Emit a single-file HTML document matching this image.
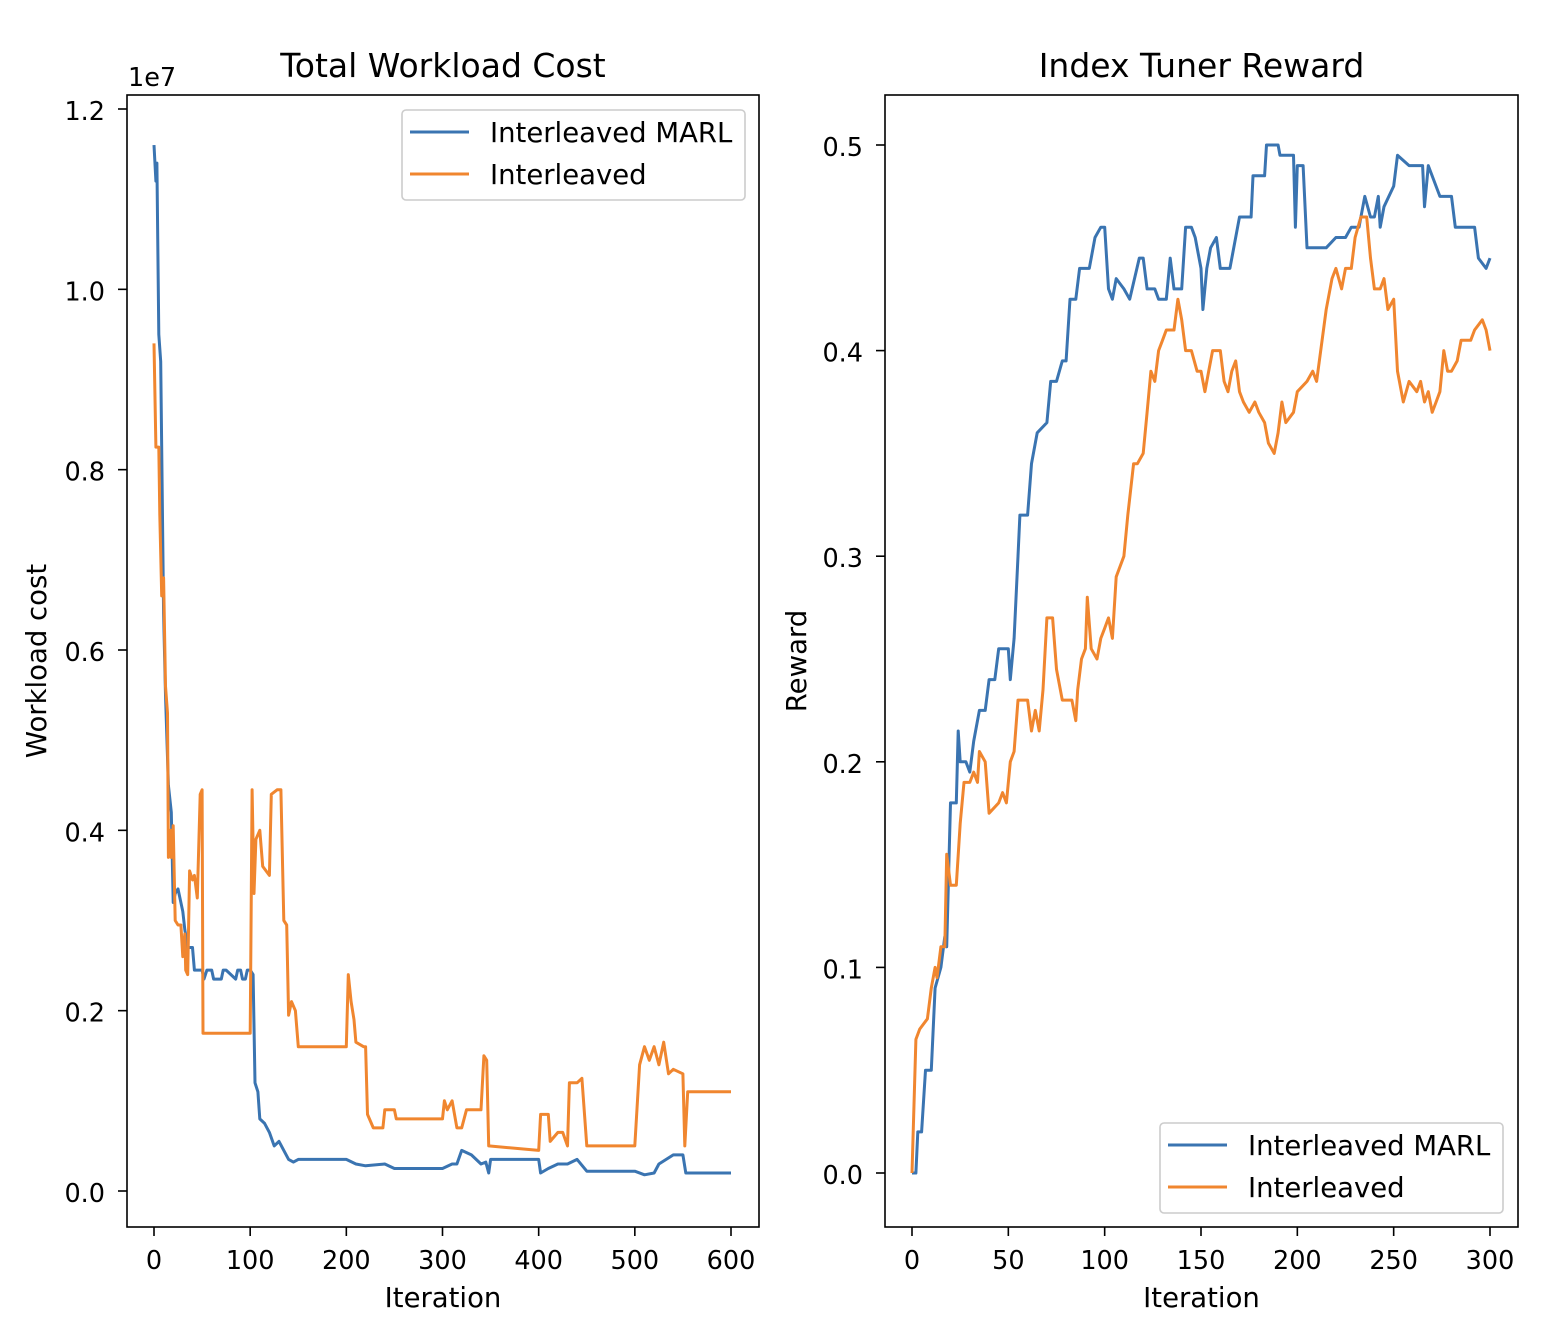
<!DOCTYPE html>
<html><head><meta charset="utf-8"><style>
html,body{margin:0;padding:0;background:#fff}
svg{display:block;font-family:"DejaVu Sans","Liberation Sans",sans-serif}
</style></head><body>
<svg id="fig" width="1560" height="1340" viewBox="0 0 1560 1340" xmlns="http://www.w3.org/2000/svg"></svg>
<script>
// Left chart data (workload cost, units of 1e6)
const costIterBlue=[0,2,3,5,7,10,12,15,18,20,22,25,30,32,35,40,42,50,52,55,60,62,70,72,75,85,87,90,92,95,97,100,103,105,108,110,115,120,125,130,135,140,145,150,200,210,220,240,250,300,310,315,320,330,340,345,348,350,400,402,410,420,430,440,450,500,510,520,525,540,550,553,600];
const costBlue=[11.6,11.2,11.4,9.5,9.2,6.4,5.5,4.5,4.2,3.2,3.3,3.35,3.1,2.9,2.7,2.7,2.45,2.45,2.35,2.45,2.45,2.35,2.35,2.45,2.45,2.35,2.45,2.45,2.35,2.35,2.45,2.45,2.4,1.2,1.1,0.8,0.75,0.65,0.5,0.55,0.45,0.35,0.32,0.35,0.35,0.3,0.28,0.3,0.25,0.25,0.3,0.3,0.45,0.4,0.3,0.32,0.2,0.35,0.35,0.2,0.25,0.3,0.3,0.35,0.22,0.22,0.18,0.2,0.3,0.4,0.4,0.2,0.2];
const costIterOrange=[0,2,5,6,8,10,12,14,15,17,18,20,22,25,28,30,32,33,35,37,40,42,45,48,50,51,100,102,104,106,110,113,120,122,128,132,135,138,140,143,147,150,200,202,205,208,210,218,220,222,228,238,240,250,252,300,302,305,310,315,320,325,340,343,346,348,400,402,410,412,420,425,430,432,440,445,450,500,505,510,515,520,525,530,535,540,550,552,555,600];
const costOrange=[9.4,8.25,8.25,7.5,6.6,6.8,5.6,5.3,3.7,4.0,3.7,4.05,3.0,2.95,2.95,2.6,2.85,2.45,2.4,3.55,3.45,3.5,3.25,4.4,4.45,1.75,1.75,4.45,3.3,3.9,4.0,3.6,3.5,4.4,4.45,4.45,3.0,2.95,1.95,2.1,2.0,1.6,1.6,2.4,2.1,1.9,1.65,1.6,1.6,0.85,0.7,0.7,0.9,0.9,0.8,0.8,1.0,0.9,1.0,0.7,0.7,0.9,0.9,1.5,1.45,0.5,0.45,0.85,0.85,0.55,0.65,0.65,0.5,1.2,1.2,1.25,0.5,0.5,1.4,1.6,1.45,1.6,1.4,1.65,1.3,1.35,1.3,0.5,1.1,1.1];
const costXTicks=[0,100,200,300,400,500,600];
const costYTicks=[0,2,4,6,8,10,12];
const costYLabels=["0.0","0.2","0.4","0.6","0.8","1.0","1.2"];
// Right chart data (reward)
const rewIterBlue=[0,2,3,5,7,10,12,15,17,18,20,23,24,25,28,30,32,35,38,40,43,45,50,51,53,55,56,60,62,65,70,72,75,78,80,82,85,87,92,95,98,100,102,104,106,110,113,118,120,122,126,128,132,134,136,140,142,145,147,150,151,153,155,158,160,165,170,176,177,183,184,190,191,198,199,200,203,205,215,220,225,228,232,235,238,240,242,243,245,250,252,258,265,266,268,274,280,282,287,292,294,298,300];
const rewBlue=[0,0,0.02,0.02,0.05,0.05,0.09,0.1,0.115,0.11,0.18,0.18,0.215,0.2,0.2,0.195,0.21,0.225,0.225,0.24,0.24,0.255,0.255,0.24,0.26,0.3,0.32,0.32,0.345,0.36,0.365,0.385,0.385,0.395,0.395,0.425,0.425,0.44,0.44,0.455,0.46,0.46,0.43,0.425,0.435,0.43,0.425,0.445,0.445,0.43,0.43,0.425,0.425,0.445,0.43,0.43,0.46,0.46,0.455,0.44,0.42,0.44,0.45,0.455,0.44,0.44,0.465,0.465,0.485,0.485,0.5,0.5,0.495,0.495,0.46,0.49,0.49,0.45,0.45,0.455,0.455,0.46,0.46,0.475,0.465,0.465,0.475,0.46,0.47,0.48,0.495,0.49,0.49,0.47,0.49,0.475,0.475,0.46,0.46,0.46,0.445,0.44,0.445];
const rewIterOrange=[0,2,4,8,10,12,13,15,17,18,20,23,25,27,30,32,34,35,38,40,45,47,49,51,53,55,60,62,64,66,68,70,73,75,78,83,85,86,88,90,91,93,96,98,100,102,104,106,110,112,115,117,120,122,124,126,128,130,132,136,138,140,142,145,148,150,152,154,156,160,162,164,166,168,170,172,175,178,180,183,185,188,190,192,194,198,200,205,208,210,215,218,220,223,225,228,230,233,236,238,240,243,245,247,250,252,255,258,262,264,266,268,270,272,274,276,278,280,283,285,290,292,296,298,300];
const rewOrange=[0,0.065,0.07,0.075,0.09,0.1,0.095,0.11,0.11,0.155,0.14,0.14,0.17,0.19,0.19,0.195,0.19,0.205,0.2,0.175,0.18,0.185,0.18,0.2,0.205,0.23,0.23,0.215,0.225,0.215,0.235,0.27,0.27,0.245,0.23,0.23,0.22,0.235,0.25,0.255,0.28,0.255,0.25,0.26,0.265,0.27,0.26,0.29,0.3,0.32,0.345,0.345,0.35,0.37,0.39,0.385,0.4,0.405,0.41,0.41,0.425,0.415,0.4,0.4,0.39,0.39,0.38,0.39,0.4,0.4,0.385,0.38,0.39,0.395,0.38,0.375,0.37,0.375,0.37,0.365,0.355,0.35,0.36,0.375,0.365,0.37,0.38,0.385,0.39,0.385,0.42,0.435,0.44,0.43,0.44,0.44,0.455,0.465,0.465,0.445,0.43,0.43,0.435,0.42,0.425,0.39,0.375,0.385,0.38,0.385,0.375,0.38,0.37,0.375,0.38,0.4,0.39,0.39,0.395,0.405,0.405,0.41,0.415,0.41,0.4];
const rewXTicks=[0,50,100,150,200,250,300];
const rewYTicks=[0,0.1,0.2,0.3,0.4,0.5];
const rewYLabels=["0.0","0.1","0.2","0.3","0.4","0.5"];

const NS="http://www.w3.org/2000/svg";
const fig=document.getElementById('fig');
function mk(tag,attrs,parent,text){const e=document.createElementNS(NS,tag);for(const k in attrs)e.setAttribute(k,attrs[k]);if(text!==undefined)e.textContent=text;(parent||fig).appendChild(e);return e;}
const BLUE="#3a74b1",ORANGE="#f0862f";
const FS=25.5, LFS=27.5;

function chart(cfg){
  const g=mk('g',{});
  
  
  const sx=v=>cfg.x0+(v-cfg.xmin)*cfg.xs, sy=v=>cfg.y0-(v-cfg.ymin)*cfg.ys;
  cfg.series.forEach(s=>{
    const pts=s.xs.map((x,i)=>sx(x).toFixed(1)+','+sy(s.ys[i]).toFixed(1)).join(' ');
    const p=mk('polyline',{points:pts,fill:'none',stroke:s.color,'stroke-width':3,'stroke-linejoin':'round'},g);
    
    
  });
  const box=mk('rect',{x:cfg.L,y:cfg.T,width:cfg.R-cfg.L,height:cfg.B-cfg.T,fill:'none',stroke:'#000','stroke-width':1.6},g);
  
  
  cfg.xt.forEach(v=>{
    const x=sx(v);
    mk('line',{x1:x,y1:cfg.B,x2:x,y2:cfg.B+9,stroke:'#000','stroke-width':1.6},g);
    const t=mk('text',{x:x,y:1269,'font-size':FS,'text-anchor':'middle'},g,String(v));
    
    
  });
  cfg.yt.forEach((v,i)=>{
    const y=sy(v);
    mk('line',{x1:cfg.L-9,y1:y,x2:cfg.L,y2:y,stroke:'#000','stroke-width':1.6},g);
    const t=mk('text',{x:cfg.L-22,y:y+11,'font-size':FS,'text-anchor':'end'},g,cfg.yl[i]);
    
    
  });
  const tt=mk('text',{x:(cfg.L+cfg.R)/2,y:77,'font-size':33,'text-anchor':'middle'},g,cfg.title);
  
  
  const xl=mk('text',{x:(cfg.L+cfg.R)/2,y:1307,'font-size':LFS,'text-anchor':'middle'},g,'Iteration');
  
  
  const yl=mk('text',{x:0,y:0,'font-size':LFS,'text-anchor':'middle',transform:`translate(${cfg.ylx},${(cfg.T+cfg.B)/2}) rotate(-90)`},g,cfg.ytitle);
  
  
  const lg=mk('g',{},g);
  
  
  mk('rect',{x:cfg.lx,y:cfg.ly,width:343,height:90,rx:4,fill:'#fff','fill-opacity':0.8,stroke:'#ccc','stroke-width':1.6},lg);
  cfg.series.forEach((s,i)=>{
    const y=cfg.ly+22+i*42;
    mk('line',{x1:cfg.lx+8,y1:y,x2:cfg.lx+67,y2:y,stroke:s.color,'stroke-width':3},lg);
    const t=mk('text',{x:cfg.lx+88,y:y+10,'font-size':LFS},lg,s.label);
    
    
  });
  return g;
}

chart({name:'total-workload-cost-chart',L:127,R:759,T:95,B:1227,x0:154,xmin:0,xs:577/600,y0:1191,ymin:0,ys:1082/12,
  xt:costXTicks,yt:costYTicks,yl:costYLabels,title:'Total Workload Cost',ytitle:'Workload cost',ylx:46,lx:402,ly:110,
  series:[{name:'line-interleaved-marl',label:'Interleaved MARL',color:BLUE,xs:costIterBlue,ys:costBlue},
          {name:'line-interleaved',label:'Interleaved',color:ORANGE,xs:costIterOrange,ys:costOrange}]});
const ex=mk('text',{x:128,y:86,'font-size':FS},fig,'1e7');



chart({name:'index-tuner-reward-chart',L:885,R:1518,T:95,B:1227,x0:912,xmin:0,xs:578/300,y0:1173,ymin:0,ys:1028/0.5,
  xt:rewXTicks,yt:rewYTicks,yl:rewYLabels,title:'Index Tuner Reward',ytitle:'Reward',ylx:806,lx:1160,ly:1123,
  series:[{name:'line-interleaved-marl',label:'Interleaved MARL',color:BLUE,xs:rewIterBlue,ys:rewBlue},
          {name:'line-interleaved',label:'Interleaved',color:ORANGE,xs:rewIterOrange,ys:rewOrange}]});
</script>
</body></html>
